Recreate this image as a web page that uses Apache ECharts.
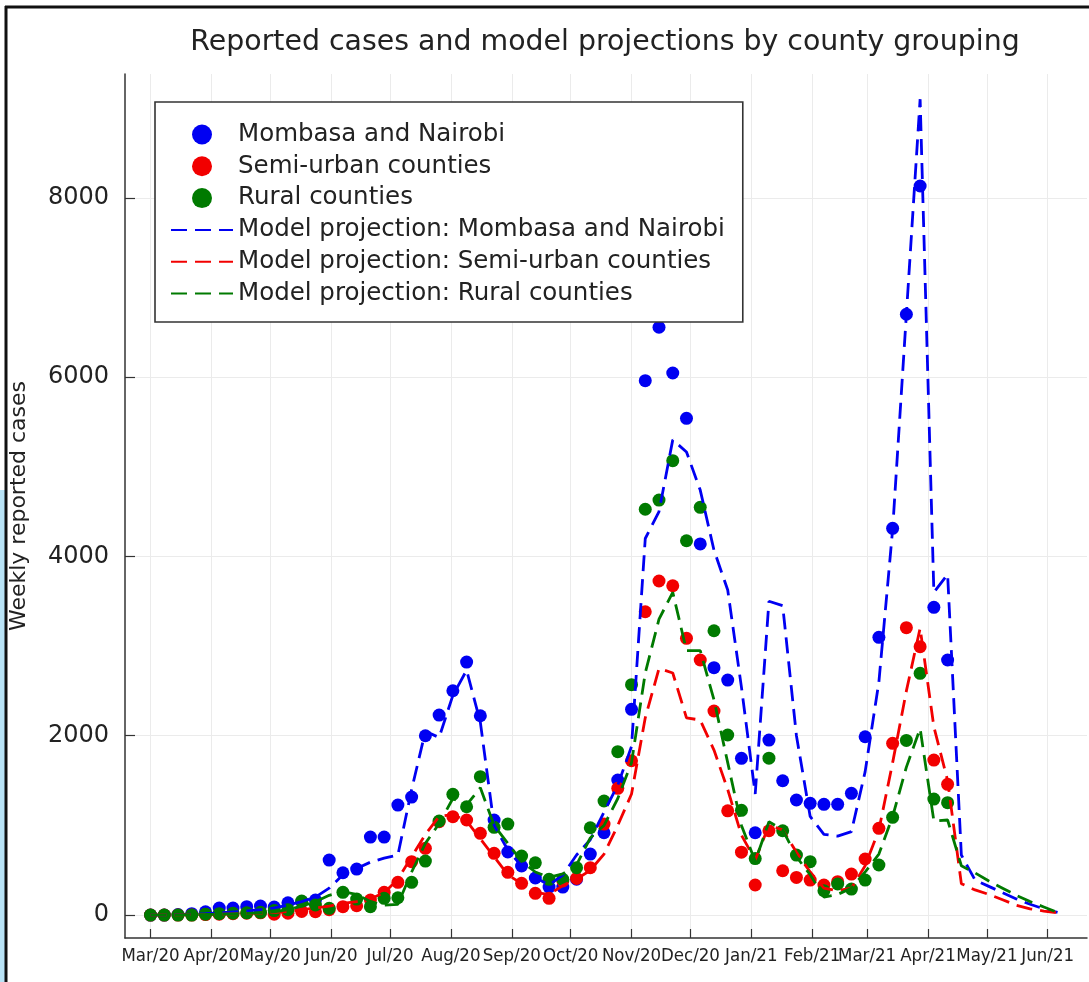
<!DOCTYPE html>
<html>
<head>
<meta charset="utf-8">
<script src="https://cdn.jsdelivr.net/npm/echarts@6/dist/echarts.min.js"></script>
<style>
  html, body { margin: 0; padding: 0; background: #fff; }
  #chart { width: 1089px; height: 982px; }
</style>
</head>
<body>
<div id="chart"></div>
<script>
// Week start dates (one value per week)
const weeks = [
  '2020-03-01','2020-03-08','2020-03-15','2020-03-22','2020-03-29','2020-04-05','2020-04-12','2020-04-19',
  '2020-04-26','2020-05-03','2020-05-10','2020-05-17','2020-05-24','2020-05-31','2020-06-07','2020-06-14',
  '2020-06-21','2020-06-28','2020-07-05','2020-07-12','2020-07-19','2020-07-26','2020-08-02','2020-08-09',
  '2020-08-16','2020-08-23','2020-08-30','2020-09-06','2020-09-13','2020-09-20','2020-09-27','2020-10-04',
  '2020-10-11','2020-10-18','2020-10-25','2020-11-01','2020-11-08','2020-11-15','2020-11-22','2020-11-29',
  '2020-12-06','2020-12-13','2020-12-20','2020-12-27','2021-01-03','2021-01-10','2021-01-17','2021-01-24',
  '2021-01-31','2021-02-07','2021-02-14','2021-02-21','2021-02-28','2021-03-07','2021-03-14','2021-03-21',
  '2021-03-28','2021-04-04','2021-04-11','2021-04-18','2021-04-25','2021-05-02','2021-05-09','2021-05-16',
  '2021-05-23','2021-05-30','2021-06-06'
];

// Reported weekly cases
const nairobiCases = [
  0, 0, 5, 15, 37, 78, 78, 93, 100, 89, 137, 148, 167, 613, 472, 513,
  870, 870, 1227, 1316, 2000, 2231, 2502, 2822, 2223, 1060, 703, 547, 413, 312, 312, 400,
  680, 918, 1506, 2295, 5960, 6556, 6046, 5540, 4139, 2759, 2621, 1748, 918, 1952, 1498, 1283,
  1246, 1235, 1235, 1358, 1989, 3098, 4314, 6701, 8132, 3432, 2845
];
const semiUrbanCases = [
  0, 0, 0, 0, 5, 10, 15, 20, 25, 10, 20, 40, 37, 60, 93, 104,
  167, 253, 365, 595, 744, 1041, 1097, 1060, 911, 688, 476, 354, 242, 186, 380, 409,
  528, 1015, 1413, 1721, 3383, 3726, 3673, 3086, 2845, 2276, 1163, 701, 335, 940, 494, 420,
  390, 335, 372, 457, 625, 967, 1915, 3205, 2993, 1729, 1458
];
const ruralCases = [
  0, 0, 0, 0, 10, 15, 20, 25, 30, 50, 60, 156, 112, 75, 253, 178,
  93, 186, 193, 365, 602, 1049, 1346, 1208, 1543, 978, 1015, 658, 583, 398, 398, 528,
  974, 1272, 1822, 2570, 4526, 4629, 5068, 4175, 4548, 3171, 2008, 1168, 630, 1750, 940, 669,
  595, 271, 346, 290, 390, 558, 1090, 1948, 2696, 1294, 1253
];

// Model projections
const nairobiModel = [
  0, 2, 5, 10, 15, 25, 35, 45, 60, 80, 110, 150, 200, 300, 450, 520,
  590, 635, 670, 1400, 2050, 1980, 2450, 2730, 2150, 1000, 725, 547, 420, 335, 446, 670,
  840, 1150, 1450, 1880, 4200, 4500, 5300, 5165, 4740, 4070, 3625, 2540, 1350, 3500, 3450, 2000,
  1100, 900, 880, 930, 1600, 2600, 4300, 6700, 9100, 3600, 3800, 670, 390, 320, 250, 180,
  120, 70, 30
];
const semiUrbanModel = [
  0, 1, 2, 4, 6, 10, 14, 18, 22, 28, 40, 60, 80, 100, 130, 150,
  180, 250, 400, 650, 900, 1100, 1120, 1050, 850, 650, 450, 350, 250, 230, 330, 400,
  500, 680, 1000, 1350, 2200, 2750, 2700, 2200, 2175, 1840, 1400, 890, 615, 1000, 950, 700,
  480, 300, 270, 300, 550, 950, 1700, 2500, 3200, 2100, 1500, 350, 280, 230, 170, 110,
  70, 45, 25
];
const ruralModel = [
  0, 1, 2, 4, 6, 10, 14, 18, 25, 35, 60, 100, 150, 220, 260, 230,
  150, 110, 120, 480, 800, 1020, 1300, 1230, 1420, 1000, 800, 600, 480, 420, 460, 560,
  860, 1000, 1300, 1700, 2700, 3300, 3600, 2950, 2950, 2400, 1700, 1000, 600, 1040, 950, 650,
  450, 200, 230, 300, 480, 680, 1100, 1650, 2080, 1050, 1060, 550, 470, 380, 300, 220,
  150, 90, 30
];

// Axis ticks
const monthTicks = [
  '2020-03-01','2020-04-01','2020-05-01','2020-06-01','2020-07-01','2020-08-01','2020-09-01','2020-10-01',
  '2020-11-01','2020-12-01','2021-01-01','2021-02-01','2021-03-01','2021-04-01','2021-05-01','2021-06-01'
];
const monthLabels = [
  'Mar/20','Apr/20','May/20','Jun/20','Jul/20','Aug/20','Sep/20','Oct/20',
  'Nov/20','Dec/20','Jan/21','Feb/21','Mar/21','Apr/21','May/21','Jun/21'
];
const yTicks = [0, 2000, 4000, 6000, 8000];

const seriesNames = [
  'Mombasa and Nairobi', 'Semi-urban counties', 'Rural counties',
  'Model projection: Mombasa and Nairobi', 'Model projection: Semi-urban counties',
  'Model projection: Rural counties'
];
const BLUE = '#0000f2', RED = '#f20000', GREEN = '#007a00';

const toTime = d => echarts.time.parse(d).getTime();
const weekTimes = weeks.map(toTime);
const tickTimes = monthTicks.map(toTime);
const pair = vals => vals.map((v, i) => [weekTimes[i], v]);

function scatter(name, vals, color) {
  return {
    name, type: 'scatter', data: pair(vals), symbol: 'circle', symbolSize: 13,
    itemStyle: { color, opacity: 1 }, z: 2, silent: true
  };
}
function model(name, vals, color) {
  return {
    name, type: 'line', data: pair(vals), showSymbol: false, symbol: 'none',
    lineStyle: { color, width: 2.8, type: [16, 8] }, itemStyle: { color },
    z: 3, silent: true
  };
}

const blueDots = scatter(seriesNames[0], nairobiCases, BLUE);
// vertical month grid lines, placed through the x scale
blueDots.markLine = {
  silent: true, symbol: 'none', label: { show: false }, z: 0,
  lineStyle: { color: '#ebebeb', width: 1, type: 'solid' },
  data: tickTimes.map(t => ({ xAxis: t }))
};

// legend entries for the model lines show only the dashed stroke
const lineLegend = name => ({ name, itemStyle: { opacity: 0 } });

const chart = echarts.init(document.getElementById('chart'), null, { renderer: 'canvas' });
chart.setOption({
  animation: false,
  backgroundColor: '#fff',
  title: {
    text: 'Reported cases and model projections by county grouping',
    left: 600, top: 24, textAlign: 'center',
    textStyle: { fontFamily: 'DejaVu Sans', fontSize: 28.4, fontWeight: 'normal', color: '#222' }
  },
  grid: { left: 124, right: 2, top: 74, bottom: 44, containLabel: false },
  legend: {
    orient: 'vertical', left: 155, top: 102,
    padding: [20, 18, 16, 15], itemGap: 6.8, itemWidth: 62, itemHeight: 20,
    backgroundColor: '#fff', borderColor: '#333', borderWidth: 1.6, borderRadius: 0,
    textStyle: { fontFamily: 'DejaVu Sans', fontSize: 24.5, lineHeight: 24, color: '#222' },
    data: [
      { name: seriesNames[0], icon: 'circle' },
      { name: seriesNames[1], icon: 'circle' },
      { name: seriesNames[2], icon: 'circle' },
      lineLegend(seriesNames[3]),
      lineLegend(seriesNames[4]),
      lineLegend(seriesNames[5])
    ],
    selectedMode: false
  },
  xAxis: {
    type: 'value',
    min: toTime('2020-02-17'), max: toTime('2021-06-21'),
    axisLine: { show: true, onZero: false, lineStyle: { color: '#333', width: 1.5 } },
    axisTick: { show: true, inside: true, length: 9, customValues: tickTimes, lineStyle: { color: '#333', width: 1.2 } },
    axisLabel: {
      customValues: tickTimes, margin: 9, hideOverlap: false,
      fontFamily: 'DejaVu Sans Condensed, DejaVu Sans', fontSize: 18.5, color: '#222',
      formatter: v => {
        const i = tickTimes.indexOf(v);
        return i >= 0 ? monthLabels[i] : '';
      }
    },
    splitLine: { show: false }
  },
  yAxis: {
    type: 'value', min: -256, max: 9381,
    axisLine: { show: true, onZero: false, lineStyle: { color: '#333', width: 1.5 } },
    axisTick: { show: true, inside: true, length: 10, customValues: yTicks, lineStyle: { color: '#333', width: 1.2 } },
    axisLabel: {
      customValues: yTicks, margin: 16, formatter: v => String(v),
      fontFamily: 'DejaVu Sans', fontSize: 24, color: '#222'
    },
    splitLine: { show: true, lineStyle: { color: '#ebebeb', width: 1 } },
    name: 'Weekly reported cases', nameLocation: 'middle', nameGap: 95, nameRotate: 90,
    nameTextStyle: { fontFamily: 'DejaVu Sans', fontSize: 22, color: '#222' }
  },
  series: [
    blueDots,
    scatter(seriesNames[1], semiUrbanCases, RED),
    scatter(seriesNames[2], ruralCases, GREEN),
    model(seriesNames[3], nairobiModel, BLUE),
    model(seriesNames[4], semiUrbanModel, RED),
    model(seriesNames[5], ruralModel, GREEN)
  ],
  graphic: [
    { type: 'rect', left: 0, top: 490, shape: { width: 5, height: 492 }, style: { fill: '#b9e3f6' }, silent: true },
    { type: 'line', shape: { x1: 5, y1: 7, x2: 1089, y2: 7 }, style: { stroke: '#111', lineWidth: 3 }, silent: true },
    { type: 'line', shape: { x1: 6, y1: 6, x2: 6, y2: 982 }, style: { stroke: '#111', lineWidth: 3 }, silent: true }
  ]
});
</script>
</body>
</html>
